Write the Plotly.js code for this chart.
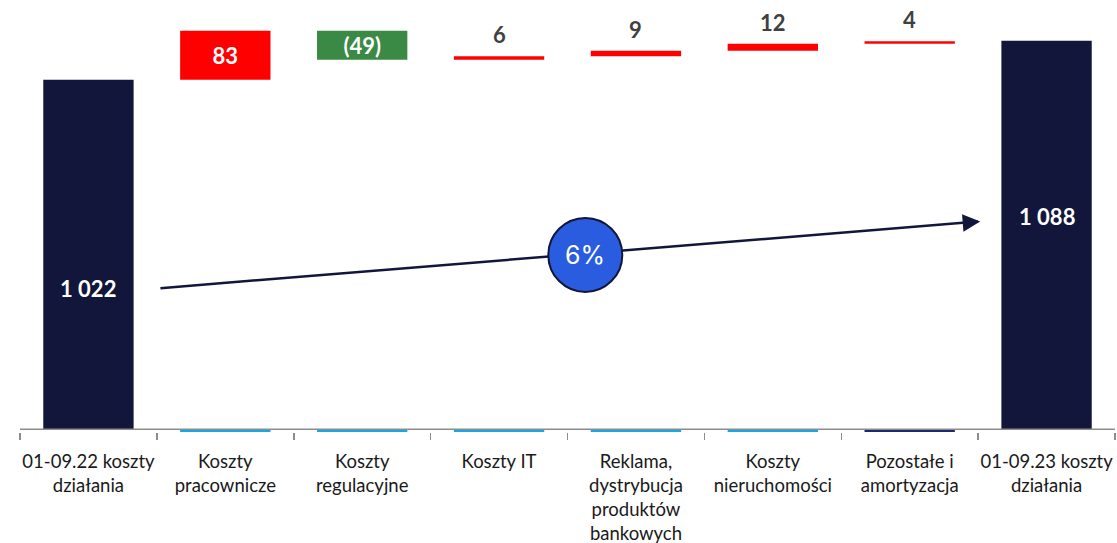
<!DOCTYPE html>
<html>
<head>
<meta charset="utf-8">
<script src="https://cdn.plot.ly/plotly-3.0.1.min.js"></script>
<style>html,body{margin:0;padding:0;background:#fff;}#chart{width:1117px;height:543px;}</style>
</head>
<body>
<div id="chart"></div>
<script>
// ---- data ----
const categories = [
  '01-09.22 koszty<br>działania',
  'Koszty<br>pracownicze',
  'Koszty<br>regulacyjne',
  'Koszty IT',
  'Reklama,<br>dystrybucja<br>produktów<br>bankowych',
  'Koszty<br>nieruchomości',
  'Pozostałe i<br>amortyzacja',
  '01-09.23 koszty<br>działania'
];
const startTotal = 1022;
const endTotal = 1088;
const deltas = [83, -49, 6, 9, 12, 4];
const deltaLabels = ['83', '(49)', '6', '9', '12', '4'];
const totalLabels = ['1 022', '1 088'];
const growthLabel = '6%';

// ---- styles ----
const NAVY = '#12163A';
const RED = '#FF0000';
const GREEN = '#3A8A45';
const CYAN = '#14A8E6';
const axisFloor = 430;   // value where the category axis line sits
const FONT = 'Lato, "Open Sans", sans-serif';

// compute waterfall pieces
const changeCats = categories.slice(1, 7);
let level = startTotal;
const changeBase = [], changeHeight = [], changeColor = [], insideText = [];
const outsideAnns = [];
deltas.forEach((d, i) => {
  const b = d > 0 ? level : level + d;
  changeBase.push(b);
  changeHeight.push(Math.abs(d));
  changeColor.push(d > 0 ? RED : GREEN);
  const inside = Math.abs(d) >= 40;
  insideText.push(inside ? deltaLabels[i] : '');
  if (!inside) {
    outsideAnns.push({xref: 'x', yref: 'y', x: changeCats[i], y: b + Math.abs(d),
      xanchor: 'center', yanchor: 'bottom', yshift: 6, showarrow: false,
      text: deltaLabels[i],
      font: {family: FONT, size: 22, color: '#404040', weight: 'bold'}});
  }
  level += d;
});

const totals = {
  type: 'bar',
  x: [categories[0], categories[7]],
  base: [axisFloor, axisFloor],
  y: [startTotal - axisFloor, endTotal - axisFloor],
  marker: {color: NAVY},
  hoverinfo: 'skip'
};
const changes = {
  type: 'bar',
  x: changeCats,
  base: changeBase,
  y: changeHeight,
  marker: {color: changeColor},
  text: insideText,
  textposition: 'inside',
  insidetextanchor: 'middle',
  insidetextfont: {family: FONT, size: 22, color: '#FFFFFF', weight: 'bold'},
  constraintext: 'none',
  cliponaxis: false,
  hoverinfo: 'skip'
};
const baseLines = {
  type: 'bar',
  x: changeCats,
  base: changeCats.map(() => 426),
  y: changeCats.map(() => 3.2),
  marker: {color: [CYAN, CYAN, CYAN, CYAN, CYAN, '#1B2A6B']},
  hoverinfo: 'skip'
};

const layout = {
  width: 1117, height: 543,
  margin: {l: 20, r: 2, t: 0, b: 111},
  paper_bgcolor: '#fff', plot_bgcolor: '#fff',
  barmode: 'overlay',
  bargap: 0.34,
  showlegend: false,
  xaxis: {
    type: 'category',
    categoryorder: 'array',
    categoryarray: categories,
    range: [-0.5, 7.5],
    tickson: 'boundaries',
    tickangle: 0,
    automargin: false,
    ticks: 'outside', ticklen: 7, tickwidth: 1.5, tickcolor: '#8C8C8C',
    showline: false, showgrid: false, zeroline: false,
    tickfont: {family: FONT, size: 18.5, color: '#1A1A1A'},
    ticklabelstandoff: 16
  },
  yaxis: {
    range: [426, 1157],
    visible: false, showgrid: false, zeroline: false, fixedrange: true
  },
  shapes: [
    {type: 'line', xref: 'paper', x0: 0, x1: 1, yref: 'y', y0: axisFloor + 0.6, y1: axisFloor + 0.6,
     line: {color: '#8C8C8C', width: 1.5}, layer: 'above'},
    {type: 'line', xref: 'x', x0: 0.526, x1: 6.50, yref: 'paper', y0: 0.333, y1: 0.487,
     line: {color: NAVY, width: 2.5}, layer: 'above'},
    {type: 'circle', xref: 'x', yref: 'paper', xsizemode: 'pixel', ysizemode: 'pixel',
     xanchor: 3.63, yanchor: 0.41, x0: -37, x1: 37, y0: -37, y1: 37,
     fillcolor: '#2A5CDF', line: {color: NAVY, width: 2}, layer: 'above'}
  ],
  annotations: outsideAnns.concat([
    {xref: 'x', yref: 'paper', x: 0, y: 0.333, xanchor: 'center', yanchor: 'middle',
     text: totalLabels[0], showarrow: false,
     font: {family: FONT, size: 22, color: '#FFFFFF', weight: 'bold'}},
    {xref: 'x', yref: 'paper', x: 7, y: 0.5, xanchor: 'center', yanchor: 'middle',
     text: totalLabels[1], showarrow: false,
     font: {family: FONT, size: 22, color: '#FFFFFF', weight: 'bold'}},
    {xref: 'x', yref: 'paper', x: 3.63, y: 0.41, xanchor: 'center', yanchor: 'middle',
     text: growthLabel, showarrow: false,
     font: {family: 'Inter, "Noto Sans", sans-serif', size: 25, color: '#FFFFFF'}},
    {xref: 'x', yref: 'paper', x: 6.515, y: 0.487, text: '', showarrow: true,
     ax: -16, ay: 1.3, arrowhead: 2, arrowsize: 1.4, arrowwidth: 2.5, arrowcolor: NAVY,
     standoff: 0, startstandoff: 0}
  ])
};

Plotly.newPlot('chart', [totals, baseLines, changes], layout, {displayModeBar: false, staticPlot: true});
</script>
</body>
</html>
